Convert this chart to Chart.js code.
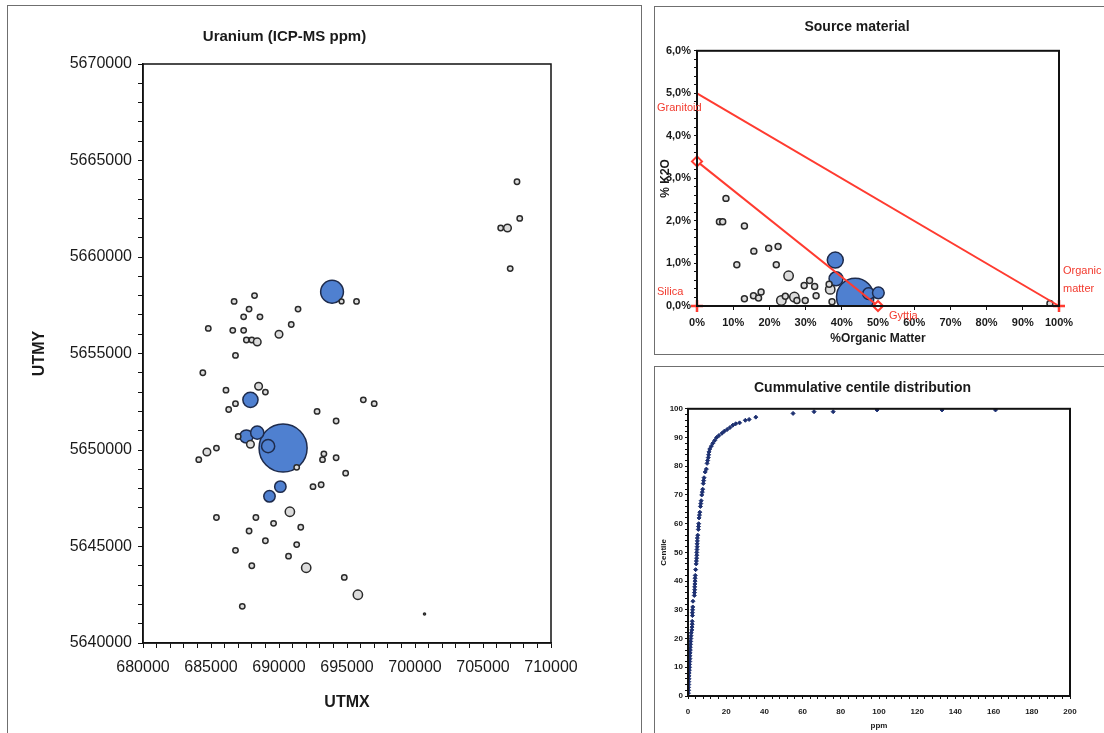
<!DOCTYPE html>
<html>
  <head>
    <title>Uranium survey</title>
    <meta charset="UTF-8" />
    <script src="https://cdn.jsdelivr.net/npm/chart.js@4.4.0/dist/chart.umd.min.js"></script>
    <style>
      body {
        margin: 0;
        width: 1104px;
        height: 733px;
        position: relative;
        overflow: hidden;
        background: #fff;
      }
      .panel {
        position: absolute;
        border: 1px solid #6f6f6f;
        box-sizing: border-box;
      }
      canvas {
        position: absolute;
      }
    </style>
  </head>

  <body>
    <div class="panel" style="left: 7px; top: 5px; width: 635px; height: 760px"></div>
    <div class="panel" style="left: 654px; top: 6px; width: 480px; height: 349px"></div>
    <div class="panel" style="left: 654px; top: 366px; width: 480px; height: 400px"></div>

    <canvas id="uranium" width="632" height="727" style="left: 8px; top: 6px"></canvas>
    <canvas id="source" width="449" height="346" style="left: 655px; top: 7px"></canvas>
    <canvas id="centile" width="449" height="366" style="left: 655px; top: 367px"></canvas>

    <script>
      // --- Uranium bubble map (UTM coords, ppm) ---
      const utmX = [690300, 693900, 687900, 687600, 688400, 689200, 690100, 689300,
        694600, 695700, 688200, 686700, 687800, 691400, 687400, 688600, 690900, 684800,
        686600, 687400, 690000, 687600, 688000, 688400, 686800, 684400, 688500, 689000,
        686100, 686800, 686300, 696200, 697000, 692800, 694200, 687000, 687900, 691300,
        684700, 685400, 684100, 693300, 693200, 694200, 694900, 692500, 693100, 690800,
        685400, 688300, 689600, 691600, 687800, 689000, 691300, 686800, 690700, 688000,
        692000, 694800, 695800, 687300, 700700, 707500, 707700, 706300, 706800, 707000];
      const utmY = [5650100, 5658200, 5652600, 5650700, 5650900, 5650200, 5648100, 5647600,
        5657700, 5657700, 5658000, 5657700, 5657300, 5657300, 5656900, 5656900, 5656500, 5656300,
        5656200, 5656200, 5656000, 5655700, 5655700, 5655600, 5654900, 5654000, 5653300, 5653000,
        5653100, 5652400, 5652100, 5652600, 5652400, 5652000, 5651500, 5650700, 5650300, 5649100,
        5649900, 5650100, 5649500, 5649800, 5649500, 5649600, 5648800, 5648100, 5648200, 5646800,
        5646500, 5646500, 5646200, 5646000, 5645800, 5645300, 5645100, 5644800, 5644500, 5644000,
        5643900, 5643400, 5642500, 5641900, 5641500, 5663900, 5662000, 5661500, 5661500, 5659400];
      const uPpm = [160, 36, 16, 12, 12, 12, 9, 9,
        1.6, 2, 2, 2, 2, 2, 2, 2, 2, 2,
        2, 2, 4, 2, 2, 4, 2, 2, 4, 2,
        2, 2, 2, 2, 2, 2, 2, 2, 4, 2,
        4, 2, 2, 2, 2, 2, 2, 2, 2, 6,
        2, 2, 2, 2, 2, 2, 2, 2, 2, 2,
        6, 2, 6, 2, 0.3, 2, 2, 2, 4, 2];

      // --- Source material (%organic matter vs oxide %) ---
      const omPct = [8.0, 6.2, 7.1, 13.1, 11.0, 15.7, 19.8, 22.4, 21.9, 25.3, 29.6, 31.1,
        32.5, 13.1, 15.6, 17.0, 17.7, 23.3, 24.4, 26.9, 27.6, 29.9, 32.9, 36.8, 37.3, 36.5,
        97.5, 43.7, 38.2, 38.4, 47.4, 50.1];
      const oxidePct = [2.53, 1.98, 1.98, 1.88, 0.97, 1.29, 1.36, 1.40, 0.97, 0.71, 0.48, 0.60,
        0.46, 0.17, 0.24, 0.19, 0.33, 0.13, 0.23, 0.21, 0.13, 0.13, 0.24, 0.39, 0.10, 0.51,
        0.06, 0.21, 1.08, 0.64, 0.29, 0.31];
      const srcPpm = [2, 2, 2, 2, 2, 2, 2, 2, 2, 7, 2, 2,
        2, 2, 2, 2, 2, 7, 2, 7, 2, 2, 2, 7, 2, 2,
        2, 160, 25, 18, 12, 12];

      const memberNames = ["Granitoid", "Silica", "Gyttja", "Organic matter"];
      const memberOM = [0, 0, 50, 100];
      const memberOxide = [5.0, 0, 0, 0];
      const mixOM = [0, 50];
      const mixOxide = [3.4, 0];

      // --- Cumulative centile distribution ---
      const centPpm = [0.2, 0.3, 0.3, 0.4, 0.4, 0.5, 0.5, 0.6, 0.7, 0.8, 0.8, 0.9, 1.0, 1.0,
        1.1, 1.2, 1.2, 1.3, 1.4, 1.5, 1.6, 1.7,
        2.0, 2.1, 2.2, 2.2, 2.3, 2.3, 2.4, 2.5, 2.6,
        3.3, 3.4, 3.5, 3.5, 3.6, 3.7, 3.7, 3.8, 4.0,
        4.3, 4.4, 4.5, 4.6, 4.6, 4.7, 4.8, 4.8, 4.9, 4.9,
        5.1, 5.4, 5.5, 5.6, 5.8, 6.0, 6.2, 6.5, 6.7, 6.9, 7.2,
        7.5, 7.7, 8.0, 8.2, 8.4, 9.0, 9.6,
        10.0, 10.3, 10.6, 10.8, 11.0, 11.4, 12.2, 13.0, 14.0, 15.0,
        16.2, 17.8, 19.0, 20.5, 22.0, 23.5, 25.0, 27.0, 30.0, 32.0, 35.5,
        55, 66, 76, 99, 133, 161];
      const centile = [1, 2, 3, 4, 5, 6, 7, 8, 9, 10, 11, 12, 13, 14,
        15, 16, 17, 18, 19, 20, 21, 22,
        23, 24, 25, 26, 28, 29, 30, 31, 33,
        35, 36, 37, 38, 39, 40, 41, 42, 44,
        46, 47, 48, 49, 50, 51, 52, 53, 54, 55,
        56, 58, 59, 60, 62, 63, 64, 66, 67, 68, 70,
        71, 72, 74, 75, 76, 78, 79,
        81, 82, 83, 84, 85, 86, 87, 88, 89, 90,
        90.7, 91.5, 92.2, 92.8, 93.5, 94.3, 94.8, 95.1, 96.0, 96.3, 97.1,
        98.4, 99.0, 99.0, 99.6, 99.6, 99.6];

      Chart.defaults.font.family = '"Liberation Sans", Arial, sans-serif';
      Chart.defaults.color = "#1a1a1a";
      Chart.defaults.animation = false;
      Chart.defaults.events = [];

      const BLUE = "#4f80d0";
      const RING = "#dcdcdc";

      // box around the plot area
      const frame = {
        id: "frame",
        afterDatasetsDraw(chart, args, opts) {
          const { ctx, chartArea: a } = chart;
          ctx.save();
          ctx.strokeStyle = "#111";
          ctx.lineWidth = opts.width || 1.5;
          ctx.strokeRect(a.left, a.top, a.right - a.left, a.bottom - a.top);
          ctx.restore();
        }
      };

      function axisGrid(len) {
        return {
          display: true,
          drawOnChartArea: false,
          drawTicks: true,
          tickLength: len,
          tickColor: "#111",
          tickWidth: 1
        };
      }

      // ---------- chart 1 ----------
      const pts = utmX.map((x, i) => ({ x: x, y: utmY[i], r: 1.9 * Math.sqrt(uPpm[i]), ppm: uPpm[i] }));
      new Chart(document.getElementById("uranium"), {
        type: "bubble",
        data: {
          datasets: [
            {
              data: pts.filter((p) => p.ppm < 8),
              backgroundColor: RING,
              borderColor: "#2a2a2a",
              borderWidth: 1.5
            },
            {
              data: pts.filter((p) => p.ppm >= 8),
              backgroundColor: BLUE,
              borderColor: "#1e2b4c",
              borderWidth: 1.5
            }
          ]
        },
        options: {
          responsive: false,
          layout: { padding: { left: 10, right: 89, top: 0, bottom: 10 } },
          plugins: {
            legend: { display: false },
            tooltip: { enabled: false },
            title: {
              display: true,
              text: "Uranium (ICP-MS ppm)",
              font: { size: 15, weight: "bold" },
              padding: { top: 22, bottom: 18 }
            },
            frame: { width: 1.5 }
          },
          scales: {
            x: {
              type: "linear",
              min: 680000,
              max: 710000,
              grid: axisGrid(5),
              border: { display: true, color: "#111", width: 1.5 },
              ticks: {
                stepSize: 1000,
                autoSkip: false,
                maxRotation: 0,
                padding: 10,
                font: { size: 16 },
                callback: (v) => (v % 5000 === 0 ? String(v) : "")
              },
              title: {
                display: true,
                text: "UTMX",
                font: { size: 16, weight: "bold" },
                padding: { top: 4, bottom: 11 }
              },
              afterFit: (s) => { s.height = 80; }
            },
            y: {
              type: "linear",
              min: 5640000,
              max: 5670000,
              grid: axisGrid(5),
              border: { display: true, color: "#111", width: 1.5 },
              ticks: {
                stepSize: 1000,
                autoSkip: false,
                padding: 6,
                font: { size: 16 },
                callback: (v) => (v % 5000 === 0 ? String(v) : "")
              },
              title: {
                display: true,
                text: "UTMY",
                font: { size: 16, weight: "bold" },
                padding: { top: 12, bottom: 4 }
              },
              afterFit: (s) => { s.width = 125; }
            }
          }
        },
        plugins: [frame]
      });

      // ---------- chart 2 ----------
      const memberLabels = {
        id: "memberLabels",
        afterDatasetsDraw(chart) {
          const { ctx, scales } = chart;
          // text offsets (px) from each end member point
          const offs = [[-40, 15], [-40, -14], [11, 10], [4, -35]];
          ctx.save();
          ctx.fillStyle = "#f23a2e";
          ctx.font = '11px "Liberation Sans", Arial, sans-serif';
          ctx.textBaseline = "middle";
          ctx.textAlign = "left";
          memberNames.forEach((name, i) => {
            const px = scales.x.getPixelForValue(memberOM[i]) + offs[i][0];
            const py = scales.y.getPixelForValue(memberOxide[i]) + offs[i][1];
            name.split(" ").forEach((word, j) => ctx.fillText(word, px, py + j * 18));
          });
          ctx.restore();
        }
      };

      const src = omPct.map((x, i) => ({ x: x, y: oxidePct[i], r: 1.4 * Math.sqrt(srcPpm[i]) + 1, ppm: srcPpm[i] }));
      new Chart(document.getElementById("source"), {
        type: "bubble",
        data: {
          datasets: [
            {
              type: "scatter",
              data: [
                { x: memberOM[0], y: memberOxide[0] },
                { x: memberOM[3], y: memberOxide[3] }
              ],
              showLine: true,
              borderColor: "#ff3b30",
              borderWidth: 2,
              pointStyle: "cross",
              pointRadius: [0, 6],
              pointBorderWidth: 2.5,
              pointBorderColor: "#ff3b30",
              clip: false
            },
            {
              type: "scatter",
              data: [
                { x: mixOM[0], y: mixOxide[0] },
                { x: mixOM[1], y: mixOxide[1] }
              ],
              showLine: true,
              borderColor: "#ff3b30",
              borderWidth: 2,
              pointStyle: "rectRot",
              pointRadius: 5,
              pointBackgroundColor: "#fff",
              pointBorderColor: "#ff3b30",
              pointBorderWidth: 2,
              clip: false
            },
            {
              type: "scatter",
              data: [{ x: memberOM[1], y: memberOxide[1] }],
              pointStyle: "cross",
              pointRadius: 6,
              pointBorderWidth: 2.5,
              pointBorderColor: "#ff3b30",
              clip: false
            },
            {
              data: src.filter((p) => p.ppm < 9),
              backgroundColor: RING,
              borderColor: "#2a2a2a",
              borderWidth: 1.5,
              clip: 0
            },
            {
              data: src.filter((p) => p.ppm >= 9),
              backgroundColor: BLUE,
              borderColor: "#1e2b4c",
              borderWidth: 1.5,
              clip: 0
            }
          ]
        },
        options: {
          responsive: false,
          layout: { padding: { left: 0, right: 45, top: 0, bottom: 0 } },
          plugins: {
            legend: { display: false },
            tooltip: { enabled: false },
            title: {
              display: true,
              text: "Source material",
              font: { size: 14, weight: "bold" },
              padding: { top: 12, bottom: 15 }
            },
            frame: { width: 2 }
          },
          scales: {
            x: {
              type: "linear",
              min: 0,
              max: 100,
              grid: axisGrid(4),
              border: { display: true, color: "#111", width: 2 },
              ticks: {
                stepSize: 10,
                autoSkip: false,
                maxRotation: 0,
                padding: 6,
                font: { size: 11, weight: "bold" },
                callback: (v) => v + "%"
              },
              title: {
                display: true,
                text: "%Organic Matter",
                font: { size: 12, weight: "bold" },
                padding: { top: 2, bottom: 7 }
              },
              afterFit: (s) => { s.height = 47; }
            },
            y: {
              type: "linear",
              min: 0,
              max: 6,
              grid: axisGrid(3),
              border: { display: true, color: "#111", width: 2 },
              ticks: {
                stepSize: 0.2,
                autoSkip: false,
                padding: 3,
                font: { size: 11, weight: "bold" },
                callback: (v) =>
                  Math.abs(v - Math.round(v)) < 1e-6 ? v.toFixed(1).replace(".", ",") + "%" : ""
              },
              title: {
                display: true,
                text: "% K2O",
                font: { size: 12, weight: "bold" },
                padding: { top: 3, bottom: 0 }
              },
              afterFit: (s) => { s.width = 42; }
            }
          }
        },
        plugins: [frame, memberLabels]
      });

      // ---------- chart 3 ----------
      new Chart(document.getElementById("centile"), {
        type: "scatter",
        data: {
          datasets: [
            {
              data: centPpm.map((x, i) => ({ x: x, y: centile[i] })),
              pointStyle: "rectRot",
              pointRadius: 2,
              backgroundColor: "#1c2f70",
              borderColor: "#1c2f70",
              borderWidth: 1
            }
          ]
        },
        options: {
          responsive: false,
          layout: { padding: { left: 0, right: 34, top: 0, bottom: 0 } },
          plugins: {
            legend: { display: false },
            tooltip: { enabled: false },
            title: {
              display: true,
              text: "Cummulative centile distribution",
              font: { size: 14, weight: "bold" },
              padding: { top: 13, bottom: 12 }
            },
            frame: { width: 2 }
          },
          scales: {
            x: {
              type: "linear",
              min: 0,
              max: 200,
              grid: axisGrid(3),
              border: { display: true, color: "#111", width: 2 },
              ticks: {
                stepSize: 4,
                autoSkip: false,
                maxRotation: 0,
                padding: 8,
                font: { size: 8, weight: "bold" },
                callback: (v) => (v % 20 === 0 ? String(v) : "")
              },
              title: {
                display: true,
                text: "ppm",
                font: { size: 8, weight: "bold" },
                padding: { top: 0, bottom: 2 }
              },
              afterFit: (s) => { s.height = 37; }
            },
            y: {
              type: "linear",
              min: 0,
              max: 100,
              grid: axisGrid(3),
              border: { display: true, color: "#111", width: 2 },
              ticks: {
                stepSize: 2,
                autoSkip: false,
                padding: 2,
                font: { size: 8, weight: "bold" },
                callback: (v) => (v % 10 === 0 ? String(v) : "")
              },
              title: {
                display: true,
                text: "Centile",
                font: { size: 8, weight: "bold" },
                padding: { top: 4, bottom: 0 }
              },
              afterFit: (s) => { s.width = 33; }
            }
          }
        },
        plugins: [frame]
      });
    </script>
  </body>
</html>
